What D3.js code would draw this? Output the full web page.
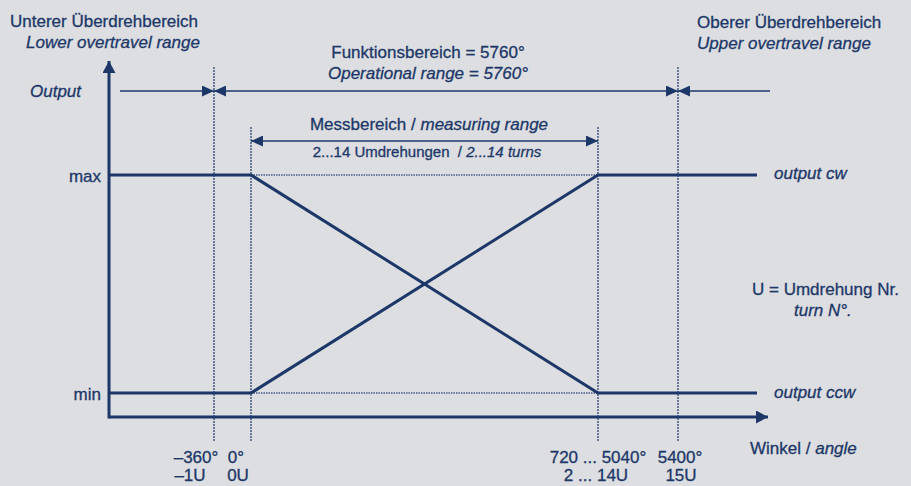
<!DOCTYPE html>
<html lang="de">
<head>
    <meta charset="UTF-8">
    <title>Funktionsbereich / Operational range</title>
    <script src="https://cdnjs.cloudflare.com/ajax/libs/d3/7.8.5/d3.min.js"></script>
    <style>
        body {
            margin: 0;
            overflow: hidden;
            background: #dcdee1;
            font-family: "Liberation Sans", Arial, sans-serif;
        }
        svg text {
            fill: #1c3768;
            stroke: #1c3768;
            stroke-width: 0.3px;
            font-size: 17px;
        }
        .it { font-style: italic; }
    </style>
</head>
<body>
<script>
    // angles in degrees, outputs normalised 0 (min) .. 1 (max)
    const tickAngles = [-360, 0, 5040, 5400];
    const tickDeg = ['–360°', '0°', '720 ... 5040°', '5400°'];
    const tickTurn = ['–1U', '0U', '2 ... 14U', '15U'];
    const outputCw = [[-1440, 0], [0, 0], [5040, 1], [6190, 1]];
    const outputCcw = [[-1440, 1], [0, 1], [5040, 0], [6190, 0]];
    const levels = [1, 0];
    const levelLabels = ['max', 'min'];
    const operational = [-360, 5400];
    const measuring = [0, 5040];

    const width = 911, height = 486;
    const navy = '#1c3768';

    const svg = d3.select('body').append('svg')
        .attr('width', width)
        .attr('height', height);

    // schematic (piecewise) angle scale
    const x = d3.scaleLinear()
        .domain([-1440, -360, 0, 5040, 5400, 6300])
        .range([109, 214, 251, 598, 678, 768]);
    const y = d3.scaleLinear().domain([0, 1]).range([393, 175]);

    // arrowhead markers
    const defs = svg.append('defs');
    function marker(id, w, h) {
        defs.append('marker')
            .attr('id', id)
            .attr('viewBox', `0 ${-h / 2} ${w} ${h}`)
            .attr('markerUnits', 'userSpaceOnUse')
            .attr('markerWidth', w).attr('markerHeight', h)
            .attr('refX', w).attr('refY', 0)
            .attr('orient', 'auto-start-reverse')
            .append('path')
            .attr('d', `M0,${-h / 2}L${w},0L0,${h / 2}Z`)
            .attr('fill', navy);
    }
    marker('dim', 12, 11);
    marker('axis', 12, 13);

    // vertical dotted guides
    svg.append('g').selectAll('line')
        .data(tickAngles)
        .join('line')
        .attr('x1', d => x(d)).attr('x2', d => x(d))
        .attr('y1', d => (d === operational[0] || d === operational[1]) ? 67 : 127)
        .attr('y2', 442)
        .attr('stroke', navy)
        .attr('stroke-width', 1.2)
        .attr('stroke-dasharray', '2,1');

    // dotted level lines inside measuring range
    svg.append('g').selectAll('line')
        .data(levels)
        .join('line')
        .attr('x1', x(measuring[0])).attr('x2', x(measuring[1]))
        .attr('y1', d => y(d)).attr('y2', d => y(d))
        .attr('stroke', '#6c7ba0')
        .attr('stroke-width', 2.2)
        .attr('stroke-dasharray', '1.5,1');

    // output curves
    const line = d3.line().x(d => x(d[0])).y(d => y(d[1]));
    svg.append('g').selectAll('path')
        .data([outputCw, outputCcw])
        .join('path')
        .attr('d', line)
        .attr('fill', 'none')
        .attr('stroke', navy)
        .attr('stroke-width', 3);

    // axes
    const axisBottom = 417;
    svg.append('line')
        .attr('x1', x(-1440)).attr('x2', x(6300))
        .attr('y1', axisBottom).attr('y2', axisBottom)
        .attr('stroke', navy).attr('stroke-width', 3)
        .attr('marker-end', 'url(#axis)');
    svg.append('line')
        .attr('x1', x(-1440)).attr('x2', x(-1440))
        .attr('y1', axisBottom + 1.5).attr('y2', 61)
        .attr('stroke', navy).attr('stroke-width', 3)
        .attr('marker-end', 'url(#axis)');

    // dimension lines (operational range)
    const dimY = 91;
    const dim = (a, b, yy, start, end) => {
        const l = svg.append('line')
            .attr('x1', a).attr('x2', b)
            .attr('y1', yy).attr('y2', yy)
            .attr('stroke', navy).attr('stroke-width', 1.5);
        if (start) l.attr('marker-start', 'url(#dim)');
        if (end) l.attr('marker-end', 'url(#dim)');
    };
    dim(120, x(operational[0]), dimY, false, true);
    dim(x(operational[0]), x(operational[1]), dimY, true, true);
    dim(770, x(operational[1]), dimY, false, true);
    dim(x(measuring[0]), x(measuring[1]), 141, true, true);

    // level labels
    svg.append('g').selectAll('text')
        .data(levels)
        .join('text')
        .attr('x', 101)
        .attr('y', d => y(d) + 7)
        .attr('text-anchor', 'end')
        .text((d, i) => levelLabels[i]);

    // tick labels (two rows), first two shifted apart
    const degShift = [-18, -15, 0, 2];
    const turnShift = [-24, -13, -2, 3];
    svg.append('g').selectAll('text')
        .data(tickAngles)
        .join('text')
        .attr('x', (d, i) => x(d) + degShift[i])
        .attr('y', 463)
        .attr('text-anchor', 'middle')
        .text((d, i) => tickDeg[i]);
    svg.append('g').selectAll('text')
        .data(tickAngles)
        .join('text')
        .attr('x', (d, i) => x(d) + turnShift[i])
        .attr('y', 481)
        .attr('text-anchor', 'middle')
        .text((d, i) => tickTurn[i]);

    // free text
    function txt(xx, yy, s, cls, anchor, size) {
        const t = svg.append('text')
            .attr('x', xx).attr('y', yy)
            .attr('text-anchor', anchor || 'start')
            .text(s);
        if (cls) t.attr('class', cls);
        if (size) t.style('font-size', size + 'px');
        return t;
    }
    txt(10, 27, 'Unterer Überdrehbereich');
    txt(26, 48, 'Lower overtravel range', 'it');
    txt(697, 28, 'Oberer Überdrehbereich');
    txt(697, 49, 'Upper overtravel range', 'it');
    txt(428, 58, 'Funktionsbereich = 5760°', null, 'middle');
    txt(428, 79, 'Operational range = 5760°', 'it', 'middle');
    txt(30, 97, 'Output', 'it');

    const mess = txt(429, 130, 'Messbereich / ', null, 'middle');
    mess.append('tspan').attr('class', 'it').text('measuring range');
    const turns = txt(427, 157, '2...14 Umdrehungen \u00a0/ ', null, 'middle', 15);
    turns.append('tspan').attr('class', 'it').text('2...14 turns');

    txt(774, 179, 'output cw', 'it');
    txt(774, 398, 'output ccw', 'it');
    txt(752, 295, 'U = Umdrehung Nr.');
    txt(794, 316, 'turn N°.', 'it');
    const wk = txt(750, 454, 'Winkel / ');
    wk.append('tspan').attr('class', 'it').text('angle');
</script>
</body>
</html>
